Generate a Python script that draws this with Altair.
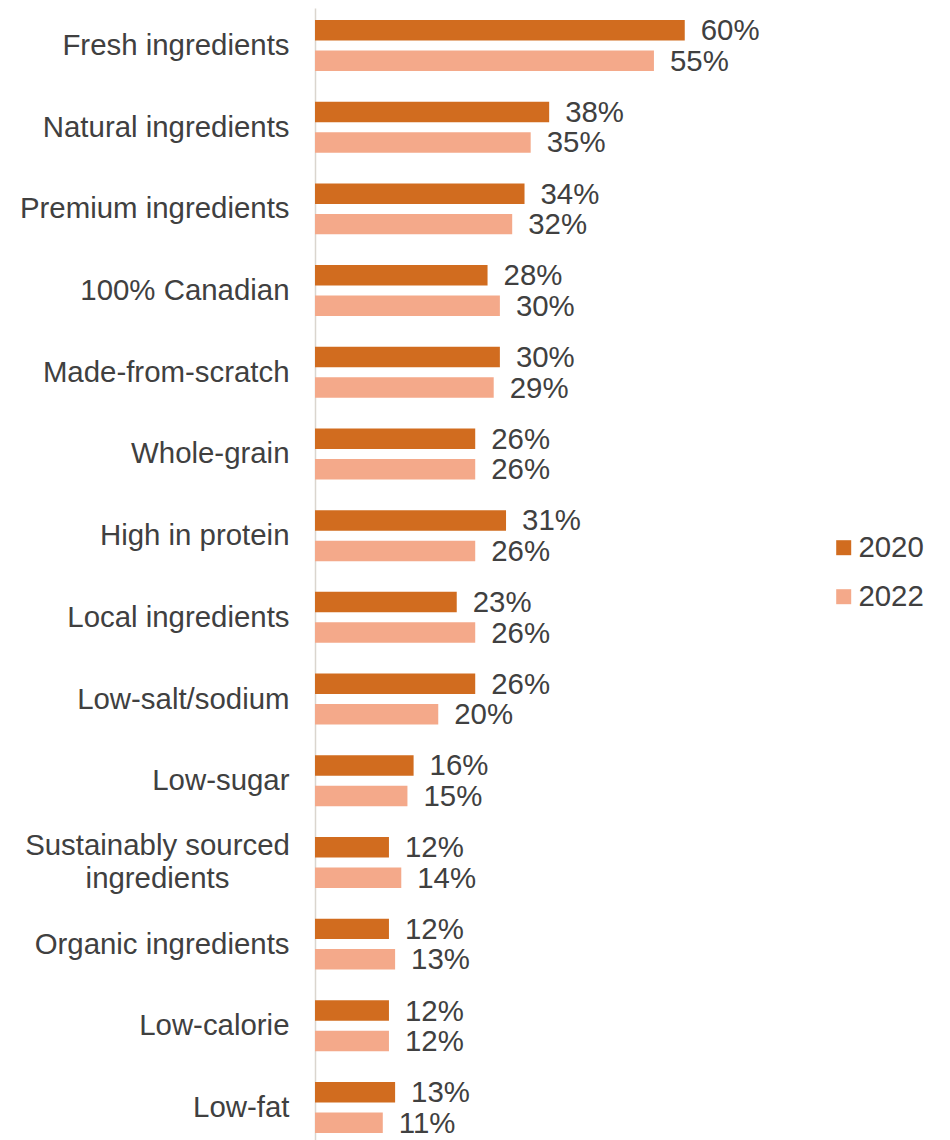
import altair as alt
import pandas as pd

categories = [
    "Fresh ingredients", "Natural ingredients", "Premium ingredients", "100% Canadian",
    "Made-from-scratch", "Whole-grain", "High in protein", "Local ingredients",
    "Low-salt/sodium", "Low-sugar", "Sustainably sourced ingredients",
    "Organic ingredients", "Low-calorie", "Low-fat",
]
values_2020 = [60, 38, 34, 28, 30, 26, 31, 23, 26, 16, 12, 12, 12, 13]
values_2022 = [55, 35, 32, 30, 29, 26, 26, 26, 20, 15, 14, 13, 12, 11]
years = ["2020", "2022"]
colors = ["#D16C1F", "#F4A98A"]

rows = []
for c, a, b in zip(categories, values_2020, values_2022):
    rows.append({"cat": c, "year": "2020", "value": a})
    rows.append({"cat": c, "year": "2022", "value": b})
df = pd.DataFrame(rows)

FONT = "Liberation Sans"
TXT = "#404040"
FS = 29.4
MULTI = "Sustainably sourced ingredients"
TEST = f"datum.value == '{MULTI}'"

y = alt.Y(
    "cat:N", sort=categories, title=None,
    scale=alt.Scale(paddingInner=0.376, paddingOuter=0.147),
    axis=alt.Axis(
        ticks=False, tickSize=0, grid=False,
        domainColor="#DAD5CE", domainWidth=1.5,
        labelFont=FONT, labelFontSize=FS, labelColor=TXT, labelLimit=500,
        labelLineHeight=33,
        labelExpr=f"{TEST} ? ['Sustainably sourced', 'ingredients'] : datum.label",
        labelAlign={"condition": {"test": TEST, "value": "center"}, "value": "right"},
        labelPadding={"condition": {"test": TEST, "value": 158}, "value": 26},
        labelOffset={"condition": {"test": TEST, "value": -16}, "value": 0.5},
    ),
)
yoff = alt.YOffset("year:N", scale=alt.Scale(domain=years, paddingInner=0.328))
x = alt.X("value:Q", scale=alt.Scale(domain=[0, 80]), axis=None)

bars = alt.Chart(df).mark_bar().encode(
    x=x, y=y, yOffset=yoff,
    color=alt.Color(
        "year:N", scale=alt.Scale(domain=years, range=colors),
        legend=alt.Legend(
            orient="none", legendX=514, legendY=525, title=None,
            symbolType="square", symbolSize=225, symbolStrokeWidth=0,
            labelFont=FONT, labelFontSize=FS, labelColor=TXT,
            rowPadding=18, labelOffset=0, padding=0,
        ),
    ),
)

labels = alt.Chart(df).transform_calculate(
    label="datum.value + '%'"
).mark_text(
    align="left", baseline="middle", dx=16, dy=1, font=FONT, fontSize=FS, color=TXT
).encode(x=x, y=y, yOffset=yoff, text="label:N")

chart = alt.layer(bars, labels).properties(
    width=493, height=1137,
    autosize="none",
    padding={"left": 307, "top": 0, "right": 130, "bottom": 0},
    background="white",
).configure_view(stroke=None)

chart.save("out.html", embed_options={"renderer": "svg", "actions": False})
